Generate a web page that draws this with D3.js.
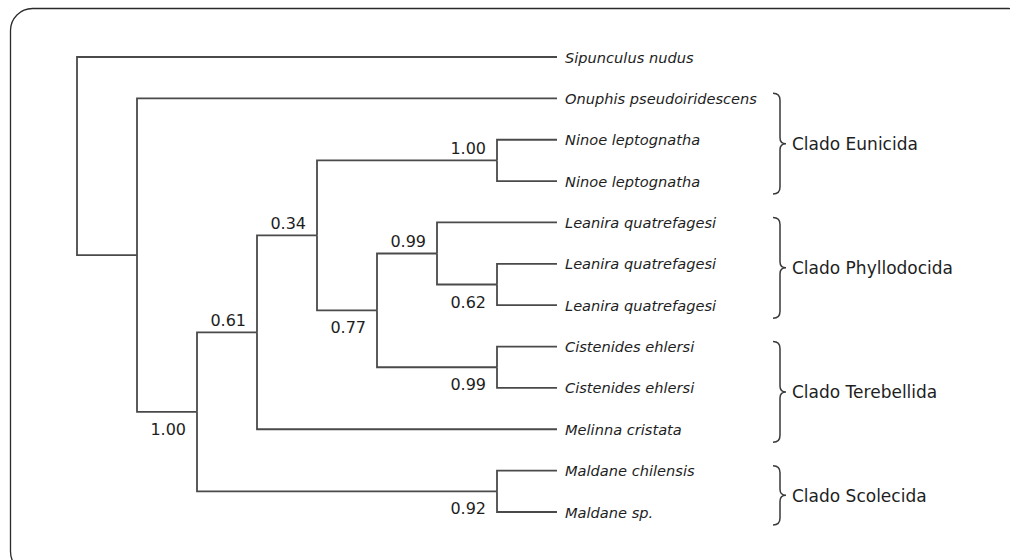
<!DOCTYPE html>
<html>
<head>
<meta charset="utf-8">
<script src="https://cdn.jsdelivr.net/npm/d3@7"></script>
<style>
  body { margin: 0; background: #fff; }
  svg { display: block; }
</style>
</head>
<body>
<svg></svg>
<script>
// tip labels, top to bottom, and the clade each one hangs from
var taxa = ["Sipunculus nudus", "Onuphis pseudoiridescens", "Ninoe leptognatha", "Ninoe leptognatha",
  "Leanira quatrefagesi", "Leanira quatrefagesi", "Leanira quatrefagesi",
  "Cistenides ehlersi", "Cistenides ehlersi", "Melinna cristata",
  "Maldane chilensis", "Maldane sp."];
var taxonParent = ["root", "A", "N", "N", "F", "G", "G", "T", "T", "C", "M", "M"];

// internal nodes and their parents
var nodeIds = ["root", "A", "B", "C", "D", "N", "E", "F", "G", "T", "M"];
var nodeParent = ["", "root", "A", "B", "C", "D", "D", "E", "F", "E", "B"];

// posterior support values
var supportNode = ["N", "D", "F", "C", "E", "B", "G", "T", "M"];
var supportValue = ["1.00", "0.34", "0.99", "0.61", "0.77", "1.00", "0.62", "0.99", "0.92"];
var supportSide = ["above", "above", "above", "above", "below", "below", "below", "below", "below"];

// clade brackets (first and last tip index)
var cladeNames = ["Clado Eunicida", "Clado Phyllodocida", "Clado Terebellida", "Clado Scolecida"];
var cladeFirst = [1, 4, 7, 10];
var cladeLast = [3, 6, 9, 11];

var width = 1010, height = 560;
var svg = d3.select("svg").attr("width", width).attr("height", height);

svg.append("rect")
  .attr("x", 10.5).attr("y", 8.5)
  .attr("width", 1020).attr("height", 565)
  .attr("rx", 22).attr("ry", 22)
  .attr("fill", "none").attr("stroke", "#2a2a2a").attr("stroke-width", 1.3);

var rows = nodeIds.map(function(id, i) { return { id: id, parent: nodeParent[i] || null }; })
  .concat(taxa.map(function(t, i) { return { id: "t" + i, parent: taxonParent[i], name: t, order: i }; }));

var root = d3.stratify().id(function(d) { return d.id; }).parentId(function(d) { return d.parent; })(rows);
root.sort(function(a, b) {
  return d3.min(a.leaves(), function(l) { return l.data.order; }) - d3.min(b.leaves(), function(l) { return l.data.order; });
});

var x = d3.scaleLinear().domain([0, root.height]).range([77, 557]);
var y = d3.scaleLinear().domain([0, taxa.length - 1]).range([57, 512]);

root.eachAfter(function(d) {
  d.x = x(root.height - d.height);
  d.y = d.children ? d3.mean(d.children, function(c) { return c.y; }) : y(d.data.order);
});

var g = svg.append("g");

g.selectAll(".branch")
  .data(root.descendants().slice(1))
  .enter().append("path")
  .attr("class", "branch")
  .attr("fill", "none")
  .attr("stroke", "#4a4a4a")
  .attr("stroke-width", 1.8)
  .attr("d", function(d) { return "M" + d.parent.x + "," + d.parent.y + "V" + d.y + "H" + d.x; });

g.selectAll(".tip")
  .data(root.leaves())
  .enter().append("text")
  .attr("class", "tip")
  .attr("x", function(d) { return d.x + 8; })
  .attr("y", function(d) { return d.y + 5.5; })
  .style("font-family", "DejaVu Sans")
  .style("font-style", "italic")
  .style("font-size", "14.6px")
  .attr("fill", "#1e1e1e")
  .text(function(d) { return d.data.name; });

var byId = {};
root.each(function(d) { byId[d.id] = d; });

g.selectAll(".support")
  .data(supportNode)
  .enter().append("text")
  .attr("class", "support")
  .attr("text-anchor", "end")
  .attr("x", function(id) { return byId[id].x - 11; })
  .attr("y", function(id, i) { return byId[id].y + (supportSide[i] == "above" ? -6 : 23); })
  .style("font-family", "DejaVu Sans")
  .style("font-size", "16px")
  .attr("fill", "#1e1e1e")
  .text(function(id, i) { return supportValue[i]; });

function brace(top, bot) {
  var x0 = 773, xs = 780, xc = 786, m = (top + bot) / 2;
  return "M" + x0 + "," + top + "Q" + xs + "," + top + " " + xs + "," + (top + 7) +
    "L" + xs + "," + (m - 6) + "Q" + xs + "," + m + " " + xc + "," + m +
    "Q" + xs + "," + m + " " + xs + "," + (m + 6) +
    "L" + xs + "," + (bot - 7) + "Q" + xs + "," + bot + " " + x0 + "," + bot;
}

var clades = g.selectAll(".clade")
  .data(cladeNames)
  .enter().append("g")
  .attr("class", "clade");

clades.append("path")
  .attr("fill", "none")
  .attr("stroke", "#3a3a3a")
  .attr("stroke-width", 1.5)
  .attr("d", function(c, i) { return brace(y(cladeFirst[i]) - 5, y(cladeLast[i]) + 13); });

clades.append("text")
  .attr("x", 792)
  .attr("y", function(c, i) { return (y(cladeFirst[i]) - 5 + y(cladeLast[i]) + 13) / 2 + 6.5; })
  .style("font-family", "DejaVu Sans")
  .style("font-size", "17px")
  .attr("fill", "#1e1e1e")
  .text(function(c) { return c; });
</script>
</body>
</html>
